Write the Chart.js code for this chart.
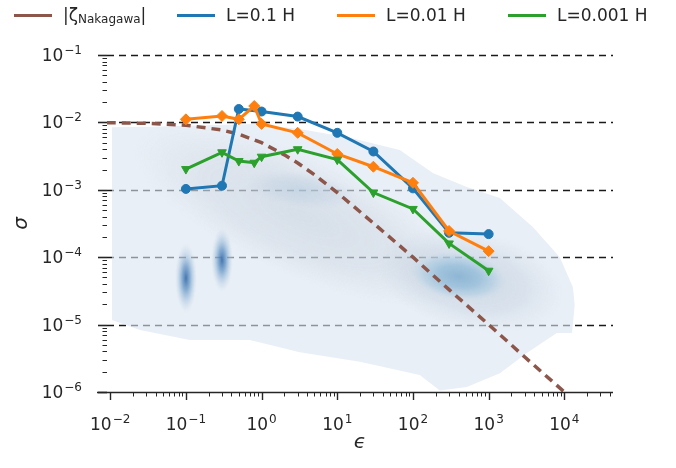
<!DOCTYPE html>
<html>
<head>
<meta charset="utf-8">
<script src="https://cdn.jsdelivr.net/npm/chart.js@4.4.1/dist/chart.umd.min.js"></script>
<style>
body { margin: 0; background: #fff; }
#wrap { position: relative; width: 676px; height: 468px; }
#legend { position: absolute; top: 0; left: 0; width: 676px; height: 32px; font-family: 'DejaVu Sans'; font-size: 17px; color: #262626; }
.item { position: absolute; top: 4px; height: 22px; display: flex; align-items: center; white-space: nowrap; }
.swatch { width: 38px; height: 3px; margin-right: 11px; }
.item sub { font-size: 12px; position: relative; top: 4px; vertical-align: baseline; }
</style>
</head>
<body>
<div id="wrap">
  <canvas id="chart" width="676" height="468"></canvas>
  <div id="legend">
    <div class="item" style="left:14px"><span class="swatch" style="background:#8c564b"></span>|ζ<sub>Nakagawa</sub>|</div>
    <div class="item" style="left:177px"><span class="swatch" style="background:#1f77b4"></span>L=0.1 H</div>
    <div class="item" style="left:337px"><span class="swatch" style="background:#ff7f0e"></span>L=0.01 H</div>
    <div class="item" style="left:508px"><span class="swatch" style="background:#2ca02c"></span>L=0.001 H</div>
  </div>
</div>
<script>
// Axis ticks (labels are 10 raised to these exponents)
const epsTicks = [1e-2, 1e-1, 1, 10, 100, 1e3, 1e4];
const epsTickExp = ['−2', '−1', '0', '1', '2', '3', '4'];
const sigmaTicks = [1e-6, 1e-5, 1e-4, 1e-3, 1e-2, 1e-1];
const sigmaTickExp = ['−6', '−5', '−4', '−3', '−2', '−1'];

// |zeta_Nakagawa|
const nakEps = [0.009, 0.03, 0.1, 0.3, 0.5, 1, 2, 3, 5, 10, 30, 100, 300, 1000, 3000, 10000];
const nakSigma = [0.0099, 0.0097, 0.0091, 0.0077, 0.0067, 0.005, 0.0033, 0.0025, 0.00167, 9.1e-4, 3.2e-4, 1.0e-4, 3.3e-5, 1.0e-5, 3.3e-6, 1.0e-6];

// L = 0.1 H
const blueEps = [0.1, 0.3, 0.5, 1, 3, 10, 30, 100, 300, 1000];
const blueSigma = [1.03e-3, 1.15e-3, 1.58e-2, 1.45e-2, 1.22e-2, 7.0e-3, 3.7e-3, 1.05e-3, 2.3e-4, 2.2e-4];

// L = 0.01 H
const orangeEps = [0.1, 0.3, 0.5, 0.8, 1, 3, 10, 30, 100, 300, 1000];
const orangeSigma = [1.11e-2, 1.245e-2, 1.11e-2, 1.75e-2, 9.5e-3, 7.0e-3, 3.4e-3, 2.2e-3, 1.27e-3, 2.45e-4, 1.23e-4];

// L = 0.001 H
const greenEps = [0.1, 0.3, 0.5, 0.8, 1, 3, 10, 30, 100, 300, 1000];
const greenSigma = [2.03e-3, 3.6e-3, 2.67e-3, 2.52e-3, 3.1e-3, 4.0e-3, 2.8e-3, 9.1e-4, 5.2e-4, 1.6e-4, 6.3e-5];

// background density: outline of the pale cloud
const cloudTopEps = [0.0105, 0.033, 0.15, 0.8, 3.2, 14.7, 67, 183, 515, 1406, 3838, 8710, 12950, 13750];
const cloudTopSigma = [8.5e-3, 8.6e-3, 9.0e-3, 9.5e-3, 8.0e-3, 5.9e-3, 3.9e-3, 1.77e-3, 1.1e-3, 7.55e-4, 2.8e-4, 1.0e-4, 3.6e-5, 1.95e-5];
const cloudBottomEps = [0.0105, 0.0247, 0.113, 0.7, 3.2, 19.9, 123, 226, 515, 1406, 3200, 7940, 12600, 13750];
const cloudBottomSigma = [1.17e-5, 8.3e-6, 5.9e-6, 5.9e-6, 3.9e-6, 2.8e-6, 1.79e-6, 1.05e-6, 1.19e-6, 1.9e-6, 3.8e-6, 7.5e-6, 7.5e-6, 1.95e-5];

// denser parts of the cloud: band, halo, the two narrow spots, core, light spot
const spotEps = [3.2, 563, 0.1, 0.3, 400, 3.2];
const spotSigma = [4.2e-4, 4.6e-5, 4.9e-5, 9.1e-5, 5.2e-5, 1.0e-3];

const pts = (xs, ys) => xs.map((x, i) => ({ x, y: ys[i] }));

function makeBlob(w, h, stops) {
    const c = document.createElement('canvas');
    c.width = w; c.height = h;
    const g = c.getContext('2d');
    g.translate(w / 2, h / 2);
    g.scale(w / 2, h / 2);
    const grad = g.createRadialGradient(0, 0, 0, 0, 0, 1);
    stops.forEach(s => grad.addColorStop(s[0], s[1]));
    g.fillStyle = grad;
    g.beginPath();
    g.arc(0, 0, 1, 0, Math.PI * 2);
    g.fill();
    return c;
}

const vBlob = [[0, 'rgba(60,110,170,0.95)'], [0.35, 'rgba(95,145,195,0.7)'], [0.7, 'rgba(150,185,215,0.35)'], [1, 'rgba(190,210,230,0)']];
const spotStyles = [
    makeBlob(360, 120, [[0, 'rgba(175,188,202,0.32)'], [0.6, 'rgba(180,192,206,0.22)'], [1, 'rgba(190,200,212,0)']]),
    makeBlob(190, 100, [[0, 'rgba(160,182,204,0.4)'], [0.6, 'rgba(170,188,208,0.25)'], [1, 'rgba(185,200,215,0)']]),
    makeBlob(22, 70, vBlob),
    makeBlob(22, 64, vBlob),
    makeBlob(96, 48, [[0, 'rgba(135,178,210,0.9)'], [0.45, 'rgba(150,190,218,0.8)'], [0.75, 'rgba(175,205,226,0.6)'], [1, 'rgba(200,218,232,0)']]),
    makeBlob(110, 36, [[0, 'rgba(180,202,222,0.55)'], [0.6, 'rgba(190,208,225,0.35)'], [1, 'rgba(200,215,230,0)']])
];
const spotRotation = [24, 12, 0, 0, 8, 8];

const ink = '#262626';

function drawPow(ctx, exp, x, y, align) {
    ctx.font = '17px "DejaVu Sans"';
    const wBase = ctx.measureText('10').width;
    ctx.font = '12px "DejaVu Sans"';
    const wExp = ctx.measureText(exp).width;
    const total = wBase + 1 + wExp;
    const x0 = align === 'right' ? x - total : x - total / 2;
    ctx.textAlign = 'left';
    ctx.textBaseline = 'alphabetic';
    ctx.font = '17px "DejaVu Sans"';
    ctx.fillText('10', x0, y);
    ctx.font = '12px "DejaVu Sans"';
    ctx.fillText(exp, x0 + wBase + 1, y - 7);
}

// dashed grid lines under the cloud, then spine, ticks and tick labels
const axesPlugin = {
    id: 'axes',
    beforeDatasetsDraw(chart) {
        const { ctx, chartArea, scales: { y } } = chart;
        ctx.save();
        ctx.strokeStyle = '#1a1a1a';
        ctx.lineWidth = 1.4;
        ctx.setLineDash([7, 5]);
        sigmaTicks.slice(1).forEach(v => {
            const py = Math.round(y.getPixelForValue(v)) + 0.5;
            ctx.beginPath();
            ctx.moveTo(chartArea.left, py);
            ctx.lineTo(chartArea.right, py);
            ctx.stroke();
        });
        ctx.restore();
    },
    afterDraw(chart) {
        const { ctx, chartArea, scales: { x, y } } = chart;
        ctx.save();
        ctx.strokeStyle = ink;
        ctx.fillStyle = ink;
        ctx.lineWidth = 1.5;
        ctx.beginPath();
        ctx.moveTo(chartArea.left - 10, chartArea.bottom + 0.5);
        ctx.lineTo(chartArea.right, chartArea.bottom + 0.5);
        ctx.stroke();
        for (let e = -3; e <= 5; e++) {
            for (let m = 1; m < 10; m++) {
                const v = m * Math.pow(10, e);
                if (v < x.min || v > x.max) continue;
                const px = Math.round(x.getPixelForValue(v)) + 0.5;
                ctx.lineWidth = m === 1 ? 1.4 : 1;
                ctx.beginPath();
                ctx.moveTo(px, chartArea.bottom);
                ctx.lineTo(px, chartArea.bottom + (m === 1 ? 8 : 4.5));
                ctx.stroke();
            }
        }
        for (let e = -7; e <= 0; e++) {
            for (let m = 1; m < 10; m++) {
                const v = m * Math.pow(10, e);
                if (v < y.min * 0.999 || v > y.max * 1.001) continue;
                const py = Math.round(y.getPixelForValue(v)) + 0.5;
                ctx.lineWidth = m === 1 ? 1.6 : 1;
                ctx.beginPath();
                ctx.moveTo(chartArea.left - (m === 1 ? 9 : 4.5), py);
                ctx.lineTo(chartArea.left, py);
                ctx.stroke();
            }
        }
        epsTicks.forEach((v, i) => drawPow(ctx, epsTickExp[i], x.getPixelForValue(v), chartArea.bottom + 38, 'center'));
        sigmaTicks.forEach((v, i) => drawPow(ctx, sigmaTickExp[i], chartArea.left - 25, y.getPixelForValue(v) + 6, 'right'));
        ctx.restore();
    }
};

const seriesLine = (label, xs, ys, color, style, radius, rot, order) => ({
    label, data: pts(xs, ys), showLine: true, borderColor: color, backgroundColor: color,
    borderWidth: 3, pointStyle: style, pointRadius: radius, pointRotation: rot,
    pointBorderWidth: 1, fill: false, order
});

new Chart(document.getElementById('chart'), {
    type: 'scatter',
    data: {
        datasets: [
            { data: pts(cloudTopEps, cloudTopSigma), showLine: true, borderWidth: 0, pointRadius: 0, fill: 1, backgroundColor: 'rgba(218,229,240,0.6)', order: 10 },
            { data: pts(cloudBottomEps, cloudBottomSigma), showLine: true, borderWidth: 0, pointRadius: 0, fill: false, order: 10 },
            { data: pts(spotEps, spotSigma), pointStyle: spotStyles, pointRotation: spotRotation, pointRadius: 10, order: 8 },
            { data: pts(nakEps, nakSigma), showLine: true, borderColor: '#8c564b', borderWidth: 3.5, borderDash: [9, 6], pointRadius: 0, fill: false, order: 5 },
            seriesLine('L=0.1 H', blueEps, blueSigma, '#1f77b4', 'circle', 4.5, 0, 4),
            seriesLine('L=0.01 H', orangeEps, orangeSigma, '#ff7f0e', 'rectRot', 5.5, 0, 3),
            seriesLine('L=0.001 H', greenEps, greenSigma, '#2ca02c', 'triangle', 5, 180, 2)
        ]
    },
    options: {
        responsive: false,
        animation: false,
        events: [],
        layout: { padding: { top: 55, right: 63, left: 0, bottom: 0 } },
        plugins: { legend: { display: false }, tooltip: { enabled: false } },
        scales: {
            x: {
                type: 'logarithmic', min: 0.00907, max: 43950,
                afterBuildTicks: s => { s.ticks = epsTicks.map(v => ({ value: v, major: true })); },
                afterFit: s => { s.height = 76; },
                grid: { display: false, drawTicks: false },
                border: { display: false },
                ticks: { display: false },
                title: { display: true, text: 'ϵ', color: ink, padding: { top: 0, bottom: 13 },
                         font: { family: 'DejaVu Sans', size: 20, style: 'italic' } }
            },
            y: {
                type: 'logarithmic', min: 1e-6, max: 0.1,
                afterBuildTicks: s => { s.ticks = sigmaTicks.map(v => ({ value: v, major: true })); },
                afterFit: s => { s.width = 107; },
                grid: { display: false, drawTicks: false },
                border: { display: false },
                ticks: { display: false },
                title: { display: true, text: 'σ', color: ink, padding: { top: 10, bottom: 0 },
                         font: { family: 'DejaVu Sans', size: 20, style: 'italic' } }
            }
        }
    },
    plugins: [axesPlugin]
});
</script>
</body>
</html>
